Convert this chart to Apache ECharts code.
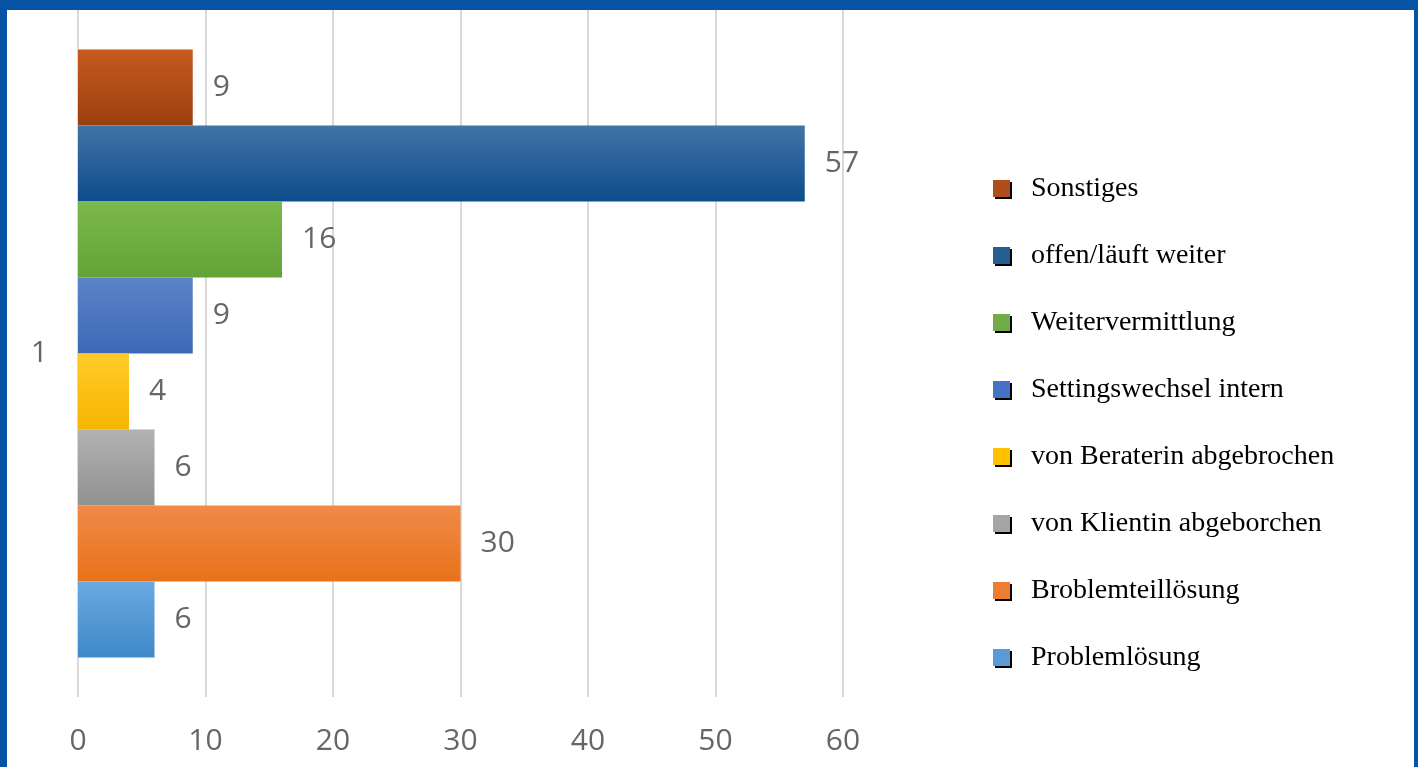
<!DOCTYPE html>
<html>
<head>
<meta charset="utf-8">
<script src="https://cdn.jsdelivr.net/npm/echarts@6/dist/echarts.min.js"></script>
<style>
  html, body { margin: 0; padding: 0; background: #0553a4; }
  #main { position: absolute; left: 7px; top: 10px; width: 1407px; height: 757px; background: #fff; }
</style>
</head>
<body>
<div id="main"></div>
<script>
// data, top-to-bottom as shown in the legend
var categories = ['1'];
var names = ['Sonstiges', 'offen/läuft weiter', 'Weitervermittlung', 'Settingswechsel intern',
             'von Beraterin abgebrochen', 'von Klientin abgeborchen', 'Broblemteillösung', 'Problemlösung'];
var values = [9, 57, 16, 9, 4, 6, 30, 6];
var xTicks = [0, 10, 20, 30, 40, 50, 60];

var flatColors = ['#b04e1a', '#255e91', '#70ad47', '#4472c4', '#ffc000', '#a5a5a5', '#ed7d31', '#5b9bd5'];
var topColors = ['#c55a1e', '#4174a6', '#7cb84c', '#5b84c8', '#ffcb2a', '#b2b2b2', '#f08a47', '#6aaae0'];
var bottomColors = ['#9c3f0e', '#0c4d8c', '#62a337', '#3c68b6', '#f7b500', '#919191', '#e8721a', '#3f88c9'];

var myChart = echarts.init(document.getElementById('main'));

var series = names.map(function (n, i) {
    return {
        name: n,
        type: 'bar',
        barWidth: 76,
        barGap: '0%',
        data: [values[i]],
        itemStyle: {
            color: new echarts.graphic.LinearGradient(0, 0, 0, 1, [
                { offset: 0, color: topColors[i] },
                { offset: 1, color: bottomColors[i] }
            ])
        },
        label: {
            show: true,
            position: 'right',
            distance: 20,
            color: '#666',
            fontFamily: 'Open Sans',
            fontSize: 30
        }
    };
});

var option = {
    animation: false,
    grid: {
        left: 71,
        right: 571,
        top: 0,
        bottom: 70
    },
    legend: {
        orient: 'vertical',
        left: 981,
        top: 158,
        itemWidth: 17,
        itemHeight: 17,
        itemGap: 36,
        data: names.map(function (n, i) {
            return { name: n, icon: 'rect', itemStyle: { color: flatColors[i], shadowColor: '#000', shadowOffsetX: 2, shadowOffsetY: 2, shadowBlur: 0 } };
        }),
        textStyle: {
            fontFamily: 'Liberation Serif',
            fontSize: 28,
            lineHeight: 31,
            color: '#000',
            padding: [0, 0, 0, 16]
        }
    },
    xAxis: {
        type: 'value',
        min: xTicks[0],
        max: xTicks[xTicks.length - 1],
        interval: 10,
        axisLine: { show: false },
        axisTick: { show: false },
        axisLabel: {
            color: '#666',
            fontFamily: 'Open Sans',
            fontSize: 30,
            margin: 29
        },
        splitLine: { lineStyle: { color: '#d9d9d9', width: 2 } }
    },
    yAxis: {
        type: 'category',
        data: categories,
        axisLine: { show: false },
        axisTick: { show: false },
        axisLabel: {
            color: '#666',
            fontFamily: 'Open Sans',
            fontSize: 30,
            margin: 30
        }
    },
    series: series
};
myChart.setOption(option);

window.addEventListener('resize', function () {
    myChart.resize();
});
</script>
</body>
</html>
